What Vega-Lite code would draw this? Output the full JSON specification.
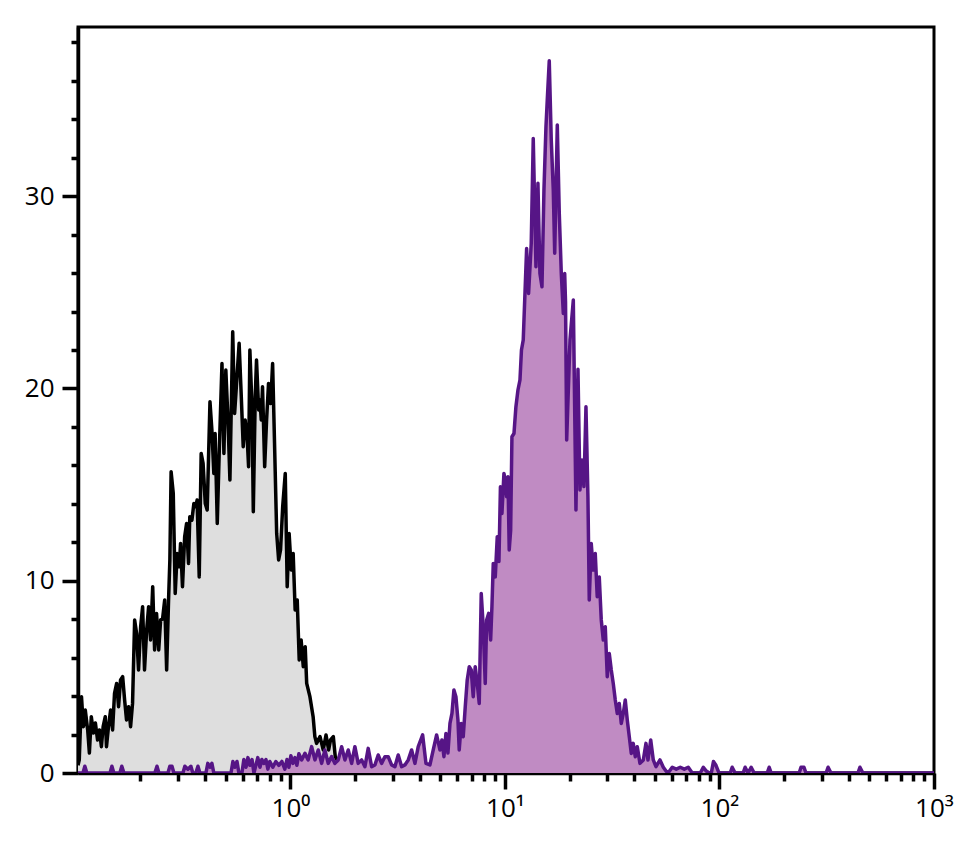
{
  "$schema": "https://vega.github.io/schema/vega-lite/v6.json",
  "autosize": "none",
  "width": 856,
  "height": 746,
  "padding": {"left": 78, "top": 27, "right": 35, "bottom": 75},
  "background": "white",
  "config": {
    "view": {"stroke": "#000", "strokeWidth": 3},
    "axis": {
      "grid": false,
      "title": null,
      "domainColor": "#000",
      "domainWidth": 3.5,
      "tickColor": "#000",
      "tickWidth": 3.5,
      "labelColor": "#000",
      "labelFont": "Open Sans",
      "labelFontSize": 26,
      "labelOverlap": false,
      "labelFlush": false
    }
  },
  "datasets": {
    "iso": [
      {"fl": 0.1023, "count": 0.4}, {"fl": 0.1037, "count": 0.68}, {"fl": 0.1062, "count": 3.97}, {"fl": 0.1084, "count": 2.41},
      {"fl": 0.1106, "count": 3.28}, {"fl": 0.1135, "count": 2.24}, {"fl": 0.1156, "count": 1.04}, {"fl": 0.118, "count": 2.93},
      {"fl": 0.1208, "count": 2.08}, {"fl": 0.1233, "count": 2.6}, {"fl": 0.1262, "count": 1.72}, {"fl": 0.1288, "count": 2.24},
      {"fl": 0.1315, "count": 1.37}, {"fl": 0.134, "count": 2.41}, {"fl": 0.1371, "count": 2.93}, {"fl": 0.1389, "count": 1.37},
      {"fl": 0.1419, "count": 2.41}, {"fl": 0.1452, "count": 3.28}, {"fl": 0.1483, "count": 2.24}, {"fl": 0.1514, "count": 4.14},
      {"fl": 0.1549, "count": 4.66}, {"fl": 0.1581, "count": 3.45}, {"fl": 0.1615, "count": 4.84}, {"fl": 0.1652, "count": 5.01},
      {"fl": 0.1687, "count": 3.8}, {"fl": 0.1722, "count": 2.76}, {"fl": 0.1762, "count": 3.45}, {"fl": 0.1799, "count": 2.41},
      {"fl": 0.1837, "count": 3.62}, {"fl": 0.1879, "count": 7.96}, {"fl": 0.1919, "count": 7.26}, {"fl": 0.1959, "count": 5.36},
      {"fl": 0.2004, "count": 7.61}, {"fl": 0.2047, "count": 8.65}, {"fl": 0.2089, "count": 5.36}, {"fl": 0.2138, "count": 7.44},
      {"fl": 0.2183, "count": 8.65}, {"fl": 0.2229, "count": 6.92}, {"fl": 0.2281, "count": 9.69}, {"fl": 0.2328, "count": 6.4},
      {"fl": 0.2377, "count": 8.3}, {"fl": 0.2433, "count": 6.4}, {"fl": 0.2483, "count": 7.96}, {"fl": 0.2535, "count": 8.0},
      {"fl": 0.2594, "count": 9.0}, {"fl": 0.2649, "count": 5.36}, {"fl": 0.2704, "count": 9.0}, {"fl": 0.2742, "count": 11.08},
      {"fl": 0.2779, "count": 15.67}, {"fl": 0.2844, "count": 14.54}, {"fl": 0.2904, "count": 9.34}, {"fl": 0.2965, "count": 11.42},
      {"fl": 0.3034, "count": 10.73}, {"fl": 0.3076, "count": 11.94}, {"fl": 0.314, "count": 9.69}, {"fl": 0.3214, "count": 12.29},
      {"fl": 0.3281, "count": 12.98}, {"fl": 0.335, "count": 10.9}, {"fl": 0.3396, "count": 13.33}, {"fl": 0.3475, "count": 13.15},
      {"fl": 0.3548, "count": 14.02}, {"fl": 0.3623, "count": 13.85}, {"fl": 0.3673, "count": 14.2}, {"fl": 0.3758, "count": 10.2},
      {"fl": 0.3837, "count": 16.62}, {"fl": 0.3917, "count": 16.1}, {"fl": 0.4009, "count": 14.02}, {"fl": 0.4093, "count": 13.68},
      {"fl": 0.4217, "count": 19.31}, {"fl": 0.4305, "count": 17.84}, {"fl": 0.4396, "count": 15.58}, {"fl": 0.4457, "count": 17.66},
      {"fl": 0.4561, "count": 12.98}, {"fl": 0.4656, "count": 16.62}, {"fl": 0.4797, "count": 21.3}, {"fl": 0.4898, "count": 16.62},
      {"fl": 0.5, "count": 20.96}, {"fl": 0.5117, "count": 18.36}, {"fl": 0.5224, "count": 15.24}, {"fl": 0.5383, "count": 22.95},
      {"fl": 0.5495, "count": 18.7}, {"fl": 0.561, "count": 20.26}, {"fl": 0.5767, "count": 22.35}, {"fl": 0.5902, "count": 19.57},
      {"fl": 0.6026, "count": 16.97}, {"fl": 0.6152, "count": 18.36}, {"fl": 0.6295, "count": 17.32}, {"fl": 0.6383, "count": 15.93},
      {"fl": 0.6472, "count": 22.0}, {"fl": 0.6622, "count": 19.05}, {"fl": 0.6715, "count": 13.59}, {"fl": 0.6855, "count": 19.57},
      {"fl": 0.695, "count": 21.48}, {"fl": 0.7112, "count": 18.88}, {"fl": 0.7211, "count": 19.4}, {"fl": 0.7312, "count": 18.36},
      {"fl": 0.7413, "count": 20.09}, {"fl": 0.7586, "count": 15.93}, {"fl": 0.7744, "count": 18.36}, {"fl": 0.7907, "count": 20.26},
      {"fl": 0.8091, "count": 19.22}, {"fl": 0.8261, "count": 21.3}, {"fl": 0.8433, "count": 17.15}, {"fl": 0.863, "count": 12.46},
      {"fl": 0.8812, "count": 11.08}, {"fl": 0.8995, "count": 11.6}, {"fl": 0.9205, "count": 13.85}, {"fl": 0.9462, "count": 15.58},
      {"fl": 0.9661, "count": 9.69}, {"fl": 0.9863, "count": 12.46}, {"fl": 1.009, "count": 10.56}, {"fl": 1.03, "count": 11.42},
      {"fl": 1.052, "count": 8.48}, {"fl": 1.076, "count": 9.0}, {"fl": 1.099, "count": 5.88}, {"fl": 1.122, "count": 6.92},
      {"fl": 1.148, "count": 5.53}, {"fl": 1.172, "count": 6.57}, {"fl": 1.191, "count": 4.66}, {"fl": 1.233, "count": 3.97},
      {"fl": 1.276, "count": 2.93}, {"fl": 1.3, "count": 1.89}, {"fl": 1.324, "count": 1.54}, {"fl": 1.374, "count": 1.89},
      {"fl": 1.422, "count": 1.2}, {"fl": 1.466, "count": 1.98}, {"fl": 1.507, "count": 1.2}, {"fl": 1.538, "count": 1.72},
      {"fl": 1.585, "count": 1.89}, {"fl": 1.618, "count": 0.85}, {"fl": 1.652, "count": 0.68}, {"fl": 1.702, "count": 0.5},
      {"fl": 1.799, "count": 0}
    ],
    "stain": [
      {"fl": 0.1023, "count": 0}, {"fl": 0.1079, "count": 0}, {"fl": 0.1101, "count": 0.35}, {"fl": 0.1125, "count": 0},
      {"fl": 0.1442, "count": 0}, {"fl": 0.1472, "count": 0.35}, {"fl": 0.1503, "count": 0}, {"fl": 0.1603, "count": 0},
      {"fl": 0.1637, "count": 0.35}, {"fl": 0.1675, "count": 0}, {"fl": 0.2333, "count": 0}, {"fl": 0.2388, "count": 0.35},
      {"fl": 0.2438, "count": 0}, {"fl": 0.2686, "count": 0}, {"fl": 0.2742, "count": 0.35}, {"fl": 0.2805, "count": 0.35},
      {"fl": 0.2864, "count": 0}, {"fl": 0.3155, "count": 0}, {"fl": 0.3221, "count": 0.35}, {"fl": 0.3327, "count": 0.2},
      {"fl": 0.3436, "count": 0.35}, {"fl": 0.3508, "count": 0}, {"fl": 0.3623, "count": 0}, {"fl": 0.3707, "count": 0.35},
      {"fl": 0.3785, "count": 0}, {"fl": 0.4037, "count": 0}, {"fl": 0.4121, "count": 0.5}, {"fl": 0.4217, "count": 0.3},
      {"fl": 0.4305, "count": 0.5}, {"fl": 0.4396, "count": 0}, {"fl": 0.5284, "count": 0}, {"fl": 0.5395, "count": 0.6},
      {"fl": 0.5508, "count": 0.3}, {"fl": 0.5636, "count": 0.6}, {"fl": 0.5754, "count": 0}, {"fl": 0.5943, "count": 0},
      {"fl": 0.6067, "count": 0.7}, {"fl": 0.6209, "count": 0.3}, {"fl": 0.6339, "count": 0.8}, {"fl": 0.6472, "count": 0.4},
      {"fl": 0.6622, "count": 0.7}, {"fl": 0.6761, "count": 0}, {"fl": 0.6902, "count": 0.4}, {"fl": 0.7046, "count": 0.8},
      {"fl": 0.7211, "count": 0.3}, {"fl": 0.7362, "count": 0.7}, {"fl": 0.7517, "count": 0.5}, {"fl": 0.7691, "count": 0.7},
      {"fl": 0.7852, "count": 0.2}, {"fl": 0.8017, "count": 0.6}, {"fl": 0.828, "count": 0.3}, {"fl": 0.8551, "count": 0.6},
      {"fl": 0.8832, "count": 0.4}, {"fl": 0.912, "count": 0.6}, {"fl": 0.9419, "count": 0.2}, {"fl": 0.9638, "count": 0.7},
      {"fl": 0.984, "count": 0.3}, {"fl": 1.005, "count": 0.9}, {"fl": 1.027, "count": 0.5}, {"fl": 1.05, "count": 0.8},
      {"fl": 1.072, "count": 0.4}, {"fl": 1.095, "count": 1.0}, {"fl": 1.128, "count": 0.68}, {"fl": 1.169, "count": 1.02},
      {"fl": 1.21, "count": 0.68}, {"fl": 1.256, "count": 1.37}, {"fl": 1.301, "count": 0.68}, {"fl": 1.348, "count": 1.2},
      {"fl": 1.398, "count": 0.5}, {"fl": 1.448, "count": 1.2}, {"fl": 1.5, "count": 0.5}, {"fl": 1.556, "count": 0.85},
      {"fl": 1.612, "count": 0.5}, {"fl": 1.671, "count": 0.68}, {"fl": 1.733, "count": 1.37}, {"fl": 1.795, "count": 0.68},
      {"fl": 1.86, "count": 1.2}, {"fl": 1.929, "count": 0.5}, {"fl": 1.998, "count": 1.37}, {"fl": 2.07, "count": 0.5},
      {"fl": 2.148, "count": 0.68}, {"fl": 2.225, "count": 0.33}, {"fl": 2.305, "count": 1.28}, {"fl": 2.391, "count": 0.33},
      {"fl": 2.477, "count": 0.42}, {"fl": 2.566, "count": 0.94}, {"fl": 2.661, "count": 0.5}, {"fl": 2.757, "count": 0.85},
      {"fl": 2.857, "count": 0.85}, {"fl": 2.963, "count": 0.42}, {"fl": 3.07, "count": 0.33}, {"fl": 3.181, "count": 0.94},
      {"fl": 3.299, "count": 0.33}, {"fl": 3.418, "count": 0.42}, {"fl": 3.543, "count": 0.68}, {"fl": 3.673, "count": 1.2},
      {"fl": 3.806, "count": 0.5}, {"fl": 3.943, "count": 1.37}, {"fl": 4.134, "count": 1.98}, {"fl": 4.284, "count": 0.5},
      {"fl": 4.47, "count": 0.42}, {"fl": 4.632, "count": 1.2}, {"fl": 4.803, "count": 1.98}, {"fl": 4.977, "count": 1.2},
      {"fl": 5.085, "count": 1.72}, {"fl": 5.196, "count": 0.85}, {"fl": 5.308, "count": 2.06}, {"fl": 5.424, "count": 1.04},
      {"fl": 5.543, "count": 2.58}, {"fl": 5.663, "count": 3.1}, {"fl": 5.783, "count": 4.32}, {"fl": 5.909, "count": 3.97},
      {"fl": 6.038, "count": 2.76}, {"fl": 6.122, "count": 1.2}, {"fl": 6.256, "count": 2.58}, {"fl": 6.392, "count": 1.89},
      {"fl": 6.532, "count": 3.45}, {"fl": 6.671, "count": 4.84}, {"fl": 6.818, "count": 5.53}, {"fl": 6.963, "count": 5.36},
      {"fl": 7.115, "count": 3.97}, {"fl": 7.269, "count": 5.53}, {"fl": 7.428, "count": 4.66}, {"fl": 7.589, "count": 3.62},
      {"fl": 7.753, "count": 9.34}, {"fl": 7.921, "count": 7.61}, {"fl": 8.094, "count": 4.66}, {"fl": 8.217, "count": 7.96},
      {"fl": 8.395, "count": 8.3}, {"fl": 8.577, "count": 6.92}, {"fl": 8.697, "count": 8.65}, {"fl": 8.822, "count": 10.9},
      {"fl": 9.014, "count": 10.2}, {"fl": 9.209, "count": 12.29}, {"fl": 9.376, "count": 11.0}, {"fl": 9.528, "count": 14.89},
      {"fl": 9.683, "count": 13.5}, {"fl": 9.892, "count": 15.58}, {"fl": 10.03, "count": 15.24}, {"fl": 10.18, "count": 14.37},
      {"fl": 10.33, "count": 15.41}, {"fl": 10.47, "count": 11.6}, {"fl": 10.63, "count": 12.6}, {"fl": 10.78, "count": 17.49},
      {"fl": 11.02, "count": 17.66}, {"fl": 11.25, "count": 19.05}, {"fl": 11.5, "count": 19.92}, {"fl": 11.75, "count": 20.44},
      {"fl": 11.94, "count": 22.0}, {"fl": 12.17, "count": 22.52}, {"fl": 12.62, "count": 27.28}, {"fl": 12.89, "count": 24.94},
      {"fl": 13.26, "count": 27.54}, {"fl": 13.55, "count": 33.0}, {"fl": 13.95, "count": 26.33}, {"fl": 14.25, "count": 30.67},
      {"fl": 14.56, "count": 25.98}, {"fl": 14.88, "count": 25.29}, {"fl": 15.2, "count": 30.32}, {"fl": 15.53, "count": 33.61},
      {"fl": 15.75, "count": 35.0}, {"fl": 16.09, "count": 37.04}, {"fl": 16.44, "count": 32.92}, {"fl": 16.8, "count": 30.32},
      {"fl": 17.06, "count": 27.03}, {"fl": 17.54, "count": 33.7}, {"fl": 17.92, "count": 29.1}, {"fl": 18.31, "count": 25.98},
      {"fl": 18.71, "count": 23.9}, {"fl": 18.99, "count": 25.98}, {"fl": 19.16, "count": 24.5}, {"fl": 19.4, "count": 17.32},
      {"fl": 20.1, "count": 22.52}, {"fl": 20.83, "count": 24.6}, {"fl": 21.43, "count": 13.68}, {"fl": 21.9, "count": 21.0},
      {"fl": 22.37, "count": 14.72}, {"fl": 22.86, "count": 16.28}, {"fl": 23.35, "count": 14.9}, {"fl": 23.86, "count": 19.05},
      {"fl": 24.37, "count": 14.37}, {"fl": 24.72, "count": 9.0}, {"fl": 25.25, "count": 11.94}, {"fl": 25.8, "count": 10.56},
      {"fl": 26.36, "count": 11.42}, {"fl": 26.93, "count": 9.17}, {"fl": 27.52, "count": 10.2}, {"fl": 28.12, "count": 7.96},
      {"fl": 28.73, "count": 6.92}, {"fl": 29.35, "count": 7.61}, {"fl": 29.99, "count": 5.01}, {"fl": 30.64, "count": 6.22},
      {"fl": 31.31, "count": 5.36}, {"fl": 31.98, "count": 4.66}, {"fl": 32.68, "count": 3.8}, {"fl": 33.39, "count": 3.1},
      {"fl": 34.11, "count": 3.62}, {"fl": 34.85, "count": 2.58}, {"fl": 35.61, "count": 3.1}, {"fl": 36.38, "count": 3.8},
      {"fl": 37.17, "count": 2.76}, {"fl": 37.98, "count": 1.89}, {"fl": 38.8, "count": 1.02}, {"fl": 39.64, "count": 1.54},
      {"fl": 40.51, "count": 0.85}, {"fl": 41.39, "count": 1.37}, {"fl": 42.6, "count": 0.5}, {"fl": 44.15, "count": 0.68},
      {"fl": 45.44, "count": 1.54}, {"fl": 46.42, "count": 0.68}, {"fl": 47.81, "count": 1.72}, {"fl": 49.15, "count": 0.68},
      {"fl": 50.59, "count": 0.33}, {"fl": 52.81, "count": 0.68}, {"fl": 54.72, "count": 0.3}, {"fl": 56.34, "count": 0.1},
      {"fl": 57.56, "count": 0}, {"fl": 60.24, "count": 0.3}, {"fl": 62.88, "count": 0.2}, {"fl": 65.65, "count": 0.3},
      {"fl": 68.53, "count": 0.2}, {"fl": 71.53, "count": 0.3}, {"fl": 74.67, "count": 0}, {"fl": 81.4, "count": 0},
      {"fl": 84.07, "count": 0.3}, {"fl": 86.82, "count": 0.1}, {"fl": 89.65, "count": 0}, {"fl": 91.6, "count": 0},
      {"fl": 93.75, "count": 0.6}, {"fl": 96.31, "count": 0.4}, {"fl": 99.47, "count": 0}, {"fl": 112.2, "count": 0},
      {"fl": 114.6, "count": 0.3}, {"fl": 118.3, "count": 0}, {"fl": 128.9, "count": 0}, {"fl": 131.7, "count": 0.3},
      {"fl": 136.0, "count": 0}, {"fl": 140.5, "count": 0.3}, {"fl": 145.1, "count": 0}, {"fl": 166.9, "count": 0},
      {"fl": 170.5, "count": 0.3}, {"fl": 174.2, "count": 0}, {"fl": 235.3, "count": 0}, {"fl": 239.9, "count": 0.3},
      {"fl": 247.7, "count": 0.3}, {"fl": 253.0, "count": 0}, {"fl": 314.0, "count": 0}, {"fl": 320.8, "count": 0.3},
      {"fl": 331.2, "count": 0}, {"fl": 442.0, "count": 0}, {"fl": 451.6, "count": 0.3}, {"fl": 466.3, "count": 0},
      {"fl": 1000, "count": 0}
    ]
  },
  "encoding": {
    "x": {
      "field": "fl",
      "type": "quantitative",
      "scale": {"type": "log", "domain": [0.1023, 1000], "nice": false},
      "axis": {
        "values": [0.2, 0.3, 0.4, 0.5, 0.6, 0.7, 0.8, 0.9, 1, 2, 3, 4, 5, 6, 7, 8, 9, 10, 20, 30, 40, 50, 60, 70, 80, 90, 100, 200, 300, 400, 500, 600, 700, 800, 900, 1000],
        "labelExpr": "datum.value == 1 ? '10⁰' : datum.value == 10 ? '10¹' : datum.value == 100 ? '10²' : datum.value == 1000 ? '10³' : ''",
        "tickSize": {"condition": {"test": "datum.value == 1 || datum.value == 10 || datum.value == 100 || datum.value == 1000", "value": 16}, "value": 8},
        "labelPadding": 6
      }
    },
    "y": {
      "field": "count",
      "type": "quantitative",
      "scale": {"domain": [0, 38.8], "nice": false},
      "axis": {
        "values": [0, 2, 4, 6, 8, 10, 12, 14, 16, 18, 20, 22, 24, 26, 28, 30, 32, 34, 36, 38],
        "labelExpr": "datum.value % 10 == 0 ? datum.label : ''",
        "tickSize": {"condition": {"test": "datum.value % 10 == 0", "value": 16}, "value": 7},
        "labelPadding": 8
      }
    }
  },
  "layer": [
    {"data": {"name": "iso"}, "mark": {"type": "area", "color": "#dedede", "clip": true}},
    {"data": {"name": "iso"}, "mark": {"type": "line", "color": "#000000", "strokeWidth": 3.5, "strokeJoin": "round", "clip": true}},
    {"data": {"name": "stain"}, "mark": {"type": "area", "color": "#c08bc3", "clip": true}},
    {"data": {"name": "stain"}, "mark": {"type": "line", "color": "#561586", "strokeWidth": 3.5, "strokeJoin": "round", "clip": true}}
  ]
}
